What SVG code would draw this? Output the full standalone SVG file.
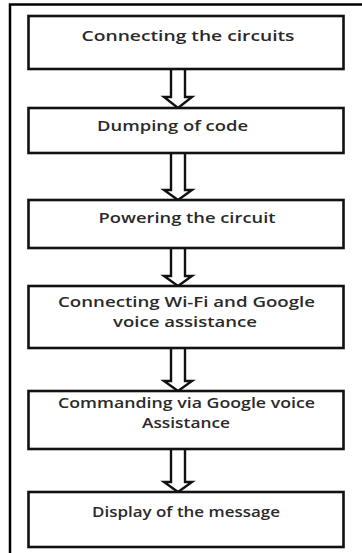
<svg xmlns="http://www.w3.org/2000/svg" width="362" height="553" viewBox="0 0 362 553">
  <style>
    .frame { fill: none; stroke: #000; stroke-width: 2.5; }
    .box { fill: #fff; stroke: #111; stroke-width: 2.6; }
    .arrow { fill: #fff; stroke: #111; stroke-width: 2.4; stroke-linejoin: miter; }
    .label { font-family: "Open Sans", "Liberation Sans", sans-serif; font-size: 14.5px; font-weight: 600; fill: #2a2a2a; text-anchor: middle; }
  </style>
  <rect width="362" height="553" fill="#fff"/>
  <!-- page frame running off the right and bottom edges -->
  <path class="frame" d="M10,553 L10,4.5 L362,4.5"/>

  <g id="connectors">
    <path class="arrow" d="M171,69 L171,97 L164,97 L178,108 L192,97 L185,97 L185,69"/>
    <path class="arrow" d="M171,153 L171,190 L164,190 L178,200 L192,190 L185,190 L185,153"/>
    <path class="arrow" d="M171,248 L171,276 L164,276 L178,286 L192,276 L185,276 L185,248"/>
    <path class="arrow" d="M171,348 L171,381 L164,381 L178,391 L192,381 L185,381 L185,348"/>
    <path class="arrow" d="M171,449 L171,482 L164,482 L178,492 L192,482 L185,482 L185,449"/>
  </g>

  <g id="step1">
    <rect class="box" x="28.5" y="16" width="315" height="53"/>
    <text class="label" x="188" y="41" textLength="213" lengthAdjust="spacingAndGlyphs">Connecting the circuits</text>
  </g>
  <g id="step2">
    <rect class="box" x="28.5" y="108" width="315" height="45"/>
    <text class="label" x="172.5" y="131" textLength="151" lengthAdjust="spacingAndGlyphs">Dumping of code</text>
  </g>
  <g id="step3">
    <rect class="box" x="28.5" y="200" width="315" height="48"/>
    <text class="label" x="187" y="223" textLength="177" lengthAdjust="spacingAndGlyphs">Powering the circuit</text>
  </g>
  <g id="step4">
    <rect class="box" x="28.5" y="286" width="315" height="62"/>
    <text class="label" x="186.5" y="307" textLength="257" lengthAdjust="spacingAndGlyphs">Connecting Wi-Fi and Google</text>
    <text class="label" x="185" y="327" textLength="144" lengthAdjust="spacingAndGlyphs">voice assistance</text>
  </g>
  <g id="step5">
    <rect class="box" x="28.5" y="391" width="315" height="58"/>
    <text class="label" x="186.5" y="408" textLength="257" lengthAdjust="spacingAndGlyphs">Commanding via Google voice</text>
    <text class="label" x="186" y="428" textLength="88" lengthAdjust="spacingAndGlyphs">Assistance</text>
  </g>
  <g id="step6">
    <rect class="box" x="28.5" y="492" width="315" height="55"/>
    <text class="label" x="186" y="517" textLength="188" lengthAdjust="spacingAndGlyphs">Display of the message</text>
  </g>
</svg>
